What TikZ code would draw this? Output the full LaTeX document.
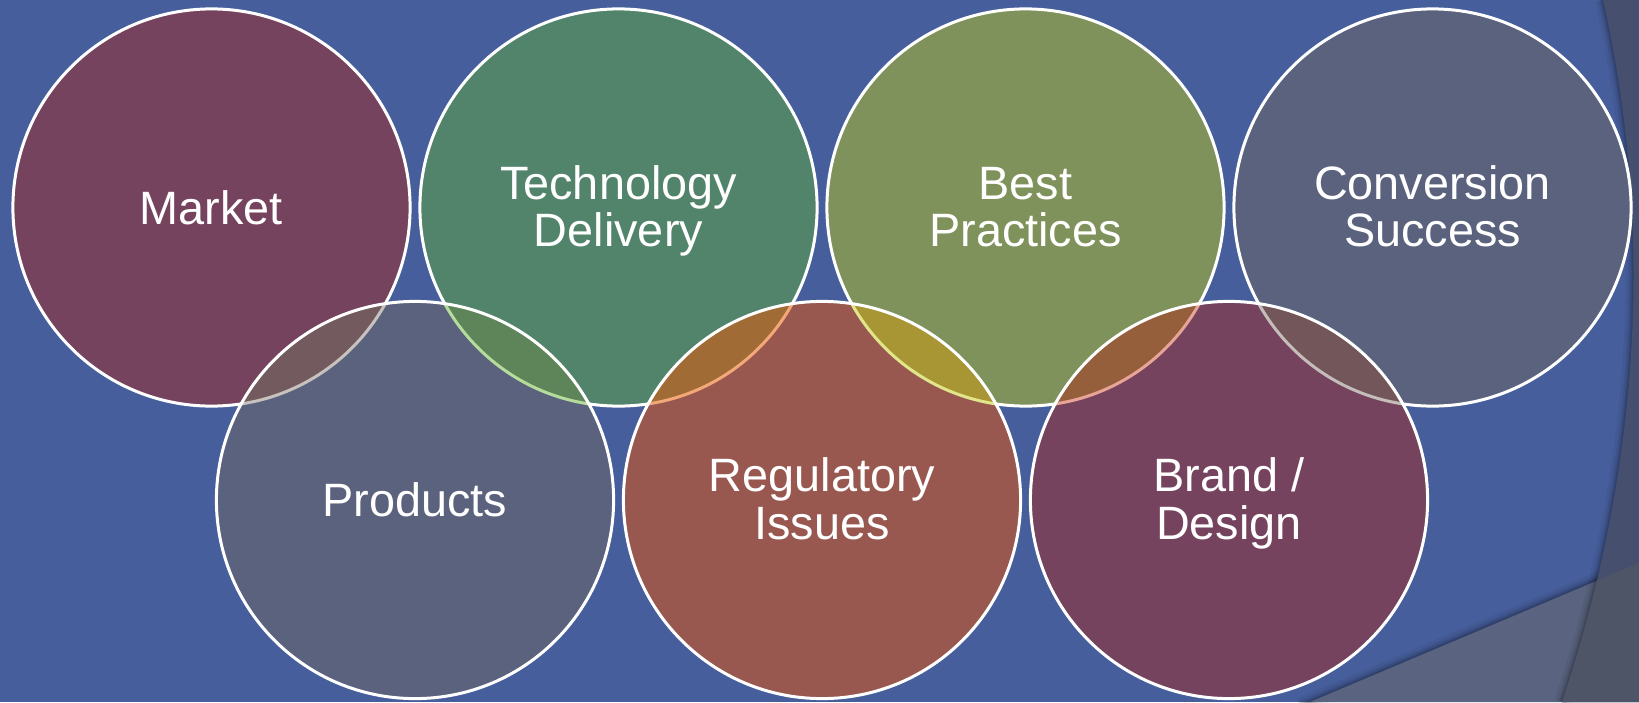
\documentclass[tikz,border=0pt]{standalone}
\usepackage{fontspec}
\setmainfont{Liberation Sans}
\begin{document}
\begin{tikzpicture}[x=0.5pt,y=-0.5pt]
% palette
\definecolor{bgblue}{HTML}{465E9C}
\definecolor{banddark}{HTML}{46506E}
\definecolor{stripe}{HTML}{5A6480}
\definecolor{stripedark}{HTML}{4E5566}
\definecolor{plum}{HTML}{76435E}
\definecolor{teal}{HTML}{52836B}
\definecolor{olive}{HTML}{80925B}
\definecolor{slate}{HTML}{5A627E}
\definecolor{brick}{HTML}{985850}
% lens fills and see-through rims
\definecolor{lensPM}{HTML}{725A5E}\definecolor{rimPM}{HTML}{C8C2BE}
\definecolor{lensPT}{HTML}{5E8459}\definecolor{rimPT}{HTML}{B6DC9C}
\definecolor{lensRT}{HTML}{A06B35}\definecolor{rimRT}{HTML}{F4A878}
\definecolor{lensRB}{HTML}{A89534}\definecolor{rimRB}{HTML}{E2E68A}
\definecolor{lensBB}{HTML}{945F3A}\definecolor{rimBB}{HTML}{E8A496}
\definecolor{lensBC}{HTML}{735659}\definecolor{rimBC}{HTML}{C4BDBA}
\def\rad{99.3pt}
\tikzset{
  bubble/.style={circle, draw=white, line width=1.5pt, minimum size=198.6pt,
    inner sep=0pt},
  lbl/.style={anchor=base, inner sep=0pt, text=white,
    font=\fontsize{23.4}{24}\selectfont},
  rim/.style={line width=1.5pt}
}
% background
\useasboundingbox (0,0) rectangle (1639,702);
\fill[bgblue] (0,0) rectangle (1639,702);
% soft shadow under the diagonal stripe
\foreach \w/\o in {8pt/0.05,5pt/0.07,3pt/0.09,1.5pt/0.12}
  \draw[black, opacity=\o, line width=\w] (1300,706) -- (1645,560);
\fill[stripe] (1310,702) -- (1639,563) -- (1639,702) -- cycle;
% soft shadow along the right band
\foreach \w/\o in {8pt/0.05,5pt/0.07,3pt/0.09,1.5pt/0.12}
  \draw[black, opacity=\o, line width=\w] (1603,0) .. controls (1655,230) and (1640,470) .. (1562,702);
\fill[banddark] (1603,0) .. controls (1655,230) and (1640,470) .. (1562,702) -- (1639,702) -- (1639,0) -- cycle;
\begin{scope}
  \clip (1603,0) .. controls (1655,230) and (1640,470) .. (1562,702) -- (1639,702) -- (1639,0) -- cycle;
  \fill[stripedark] (1310,702) -- (1639,563) -- (1639,702) -- cycle;
\end{scope}
% upper row
\node[bubble, fill=plum]  (market) at (211.5,207.5)  {};
\node[bubble, fill=teal]  (tech)   at (618.5,207.5)  {};
\node[bubble, fill=olive] (best)   at (1025.5,207.5) {};
\node[bubble, fill=slate] (conv)   at (1432.5,207.5) {};
% lower row, overlapping lenses tinted
\node[bubble, fill=slate, draw=none] (prod) at (415,500) {};
\begin{scope}
  \clip (prod.center) circle[radius=\rad];
  \fill[lensPM] (market.center) circle[radius=\rad];
  \draw[rim, rimPM] (market.center) circle[radius=\rad];
  \fill[lensPT] (tech.center) circle[radius=\rad];
  \draw[rim, rimPT] (tech.center) circle[radius=\rad];
\end{scope}
\draw[rim, white] (prod.center) circle[radius=\rad];

\node[bubble, fill=brick, draw=none] (reg) at (822,500) {};
\begin{scope}
  \clip (reg.center) circle[radius=\rad];
  \fill[lensRT] (tech.center) circle[radius=\rad];
  \draw[rim, rimRT] (tech.center) circle[radius=\rad];
  \fill[lensRB] (best.center) circle[radius=\rad];
  \draw[rim, rimRB] (best.center) circle[radius=\rad];
\end{scope}
\draw[rim, white] (reg.center) circle[radius=\rad];

\node[bubble, fill=plum, draw=none] (brand) at (1229,500) {};
\begin{scope}
  \clip (brand.center) circle[radius=\rad];
  \fill[lensBB] (best.center) circle[radius=\rad];
  \draw[rim, rimBB] (best.center) circle[radius=\rad];
  \fill[lensBC] (conv.center) circle[radius=\rad];
  \draw[rim, rimBC] (conv.center) circle[radius=\rad];
\end{scope}
\draw[rim, white] (brand.center) circle[radius=\rad];
% labels: single lines on centre+16.5, double lines on centre-8.5 / centre+39
\node[lbl] (marketT) at (211.5,224)  {Market};
\node[lbl] (techT1)  at (618.5,199)  {Technology};
\node[lbl] (techT2)  at (618.5,246.5) {Delivery};
\node[lbl] (bestT1)  at (1025.5,199) {Best};
\node[lbl] (bestT2)  at (1025.5,246.5) {Practices};
\node[lbl] (convT1)  at (1432.5,199) {Conversion};
\node[lbl] (convT2)  at (1432.5,246.5) {Success};
\node[lbl] (prodT)   at (415,516.5)  {Products};
\node[lbl] (regT1)   at (822,491.5)  {Regulatory};
\node[lbl] (regT2)   at (822,539)    {Issues};
\node[lbl] (brandT1) at (1229,491.5) {Brand /};
\node[lbl] (brandT2) at (1229,539)   {Design};
\end{tikzpicture}
\end{document}
